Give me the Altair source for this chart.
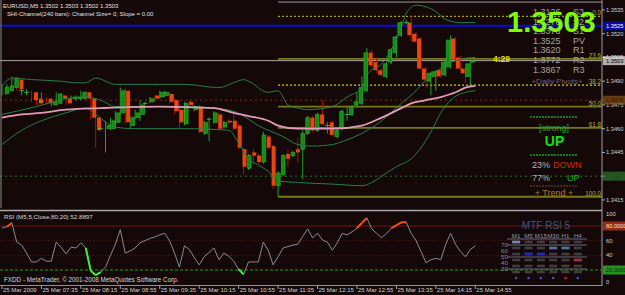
import altair as alt
import pandas as pd

BG = "#150808"
FONT = "Liberation Sans"

# ---------------- data: EURUSD M5, 25 Mar 2009, 06:55 .. 14:55 (97 bars) ----------------
opens = [1.3482,1.3484,1.3486,1.3491,1.3484,1.3483,1.3483,1.3479,1.3477,1.3479,
 1.3475,1.3476,1.3481,1.3479,1.3479,1.3479,1.3479,1.3483,1.3479,1.3467,
 1.3460,1.3460,1.3460,1.3464,1.3470,1.3484,1.3462,1.3467,1.3469,1.3476,
 1.3477,1.3481,1.3480,1.3481,1.3482,1.3478,1.3472,1.3463,1.3477,1.3472,
 1.3474,1.3457,1.3466,1.3464,1.3469,1.3461,1.3465,1.3465,1.3462,1.3447,
 1.3435,1.3445,1.3443,1.3439,1.3455,1.3449,1.3424,1.3431,1.3444,1.3443,
 1.3447,1.3447,1.3457,1.3467,1.3459,1.3469,1.3462,1.3464,1.3455,1.3460,
 1.3469,1.3469,1.3475,1.3476,1.3484,1.3508,1.3502,1.3497,1.3493,1.3502,
 1.3508,1.3519,1.3527,1.3527,1.3520,1.3517,1.3498,1.3490,1.3493,1.3497,
 1.3494,1.3499,1.3517,1.3505,1.3498,1.3493,1.3502]
highs = [1.3488,1.3488,1.3493,1.3492,1.3486,1.3485,1.3484,1.3480,1.3483,1.3480,
 1.3478,1.3483,1.3482,1.3480,1.3481,1.3481,1.3484,1.3484,1.3480,1.3468,
 1.3462,1.3465,1.3467,1.3471,1.3486,1.3486,1.3468,1.3472,1.3478,1.3477,
 1.3480,1.3481,1.3484,1.3484,1.3483,1.3479,1.3473,1.3477,1.3478,1.3475,
 1.3475,1.3465,1.3467,1.3471,1.3470,1.3465,1.3466,1.3469,1.3463,1.3448,
 1.3444,1.3447,1.3444,1.3458,1.3456,1.3450,1.3433,1.3444,1.3447,1.3446,
 1.3454,1.3459,1.3468,1.3468,1.3470,1.3478,1.3464,1.3465,1.3460,1.3472,
 1.3474,1.3475,1.3483,1.3493,1.3511,1.3510,1.3505,1.3498,1.3502,1.3511,
 1.3519,1.3528,1.3529,1.3531,1.3521,1.3518,1.3499,1.3496,1.3497,1.3498,
 1.3503,1.3519,1.3518,1.3506,1.3499,1.3502,1.3503]
lows = [1.3481,1.3483,1.3485,1.3484,1.3481,1.3481,1.3477,1.3475,1.3476,1.3475,
 1.3474,1.3475,1.3478,1.3475,1.3478,1.3478,1.3478,1.3478,1.3466,1.3448,
 1.3459,1.3445,1.3459,1.3462,1.3469,1.3463,1.3460,1.3466,1.3465,1.3475,
 1.3476,1.3478,1.3479,1.3480,1.3476,1.3469,1.3460,1.3462,1.3474,1.3471,
 1.3457,1.3456,1.3452,1.3463,1.3459,1.3460,1.3463,1.3459,1.3447,1.3431,
 1.3434,1.3438,1.3438,1.3438,1.3447,1.3422,1.3417,1.3430,1.3436,1.3442,
 1.3439,1.3428,1.3456,1.3458,1.3458,1.3462,1.3457,1.3455,1.3454,1.3459,
 1.3465,1.3468,1.3474,1.3475,1.3483,1.3498,1.3495,1.3493,1.3492,1.3501,
 1.3505,1.3518,1.3526,1.3515,1.3514,1.3497,1.3486,1.3481,1.3484,1.3492,
 1.3493,1.3498,1.3503,1.3497,1.3489,1.3487,1.3502]
closes = [1.3486,1.3487,1.3492,1.3485,1.3484,1.3483,1.3478,1.3476,1.3477,1.3476,
 1.3477,1.3482,1.3479,1.3476,1.3480,1.3480,1.3483,1.3479,1.3467,1.3459,
 1.3460,1.3462,1.3465,1.3470,1.3484,1.3464,1.3467,1.3470,1.3475,1.3476,
 1.3479,1.3479,1.3483,1.3483,1.3477,1.3471,1.3464,1.3476,1.3475,1.3474,
 1.3458,1.3464,1.3466,1.3470,1.3460,1.3464,1.3464,1.3460,1.3448,1.3436,
 1.3443,1.3443,1.3439,1.3456,1.3448,1.3424,1.3432,1.3443,1.3441,1.3445,
 1.3445,1.3457,1.3467,1.3459,1.3469,1.3463,1.3462,1.3456,1.3459,1.3471,
 1.3469,1.3474,1.3477,1.3486,1.3508,1.3500,1.3497,1.3494,1.3501,1.3510,
 1.3518,1.3527,1.3527,1.3519,1.3515,1.3498,1.3491,1.3495,1.3496,1.3493,
 1.3502,1.3516,1.3504,1.3498,1.3495,1.3501,1.3503]

rsi_vals = [77,79,84,58,54,43,31,31,36,32,
 32,58,51,42,51,50,57,50,19,13,
 17,24,40,55,75,43,46,50,57,60,
 63,65,68,70,60,43,24,53,48,37,
 27,38,44,50,34,43,39,32,21,14,
 31,31,31,58,47,27,38,50,52,54,
 55,66,76,64,70,61,58,47,57,70,
 68,72,77,84,91,76,70,64,70,77,
 81,85,85,70,60,45,30,34,36,34,
 55,70,55,45,38,48,52.8897]

# Bollinger bands and slow MA, read at selected bars
upper_idx = [0,2,6,12,15,17,19,23,32,37,44,47,49,50,54,56,58,60,62,67,70,73,74,77,79,81,82,84,86,88,90,93,96]
upper_val = [1.3487,1.3492,1.3491,1.3490,1.3489,1.3489,1.3492,1.3488,1.3488,1.3488,1.3486,1.3489,1.3491,1.3490,
             1.3483,1.3484,1.3475,1.3473,1.3472,1.3474,1.3480,1.3486,1.3494,1.3501,1.3510,1.3524,1.3533,1.3538,
             1.3537,1.3534,1.3529,1.3527,1.3527]
mid_idx = [0,7,13,17,20,23,27,37,43,47,49,52,57,60,63,67,70,73,77,81,84,86,90,93,96]
mid_val = [1.3469,1.3474,1.3479,1.3480,1.3478,1.3474,1.3474,1.3474,1.3473,1.3471,1.3468,1.3462,1.3455,1.3450,
           1.3449,1.3450,1.3453,1.3457,1.3465,1.3476,1.3484,1.3491,1.3500,1.3504,1.3505]
low_idx = [0,4,8,13,17,19,23,27,37,46,48,50,52,54,56,60,67,73,75,77,80,83,85,87,89,91,94,96]
low_val = [1.3450,1.3459,1.3465,1.3470,1.3473,1.3469,1.3461,1.3460,1.3460,1.3459,1.3451,1.3441,1.3437,1.3433,
           1.3427,1.3426,1.3425,1.3424,1.3426,1.3430,1.3436,1.3441,1.3448,1.3458,1.3470,1.3478,1.3483,1.3484]
ma_idx = [0,4,8,13,20,32,43,47,50,54,56,60,67,73,77,81,83,86,89,92,94,96]
ma_val = [1.3467,1.3469,1.3470,1.3472,1.3473,1.3474,1.3473,1.3470,1.3468,1.3465,1.3462,1.3460,1.3460,1.3462,
          1.3467,1.3473,1.3476,1.3478,1.3480,1.3483,1.3486,1.3487]

fib_levels = ["0.0", "23.6", "38.2", "50.0", "61.8", "100.0"]
fib_prices = [1.3531, 1.35041, 1.34875, 1.3474, 1.34605, 1.3417]
fib_start_bar = 56

pivot_names = ["S3", "S2", "S1", "PV", "R1", "R2", "R3"]
pivot_vals = [1.3126, 1.3278, 1.3373, 1.3525, 1.3620, 1.3772, 1.3867]

price_ticks = [1.3535, 1.3520, 1.3505, 1.3490, 1.3475, 1.3460, 1.3445, 1.3430, 1.3415]
rsi_ticks = [100, 60, 40, 0]

axis_bars = [0, 8, 16, 24, 32, 40, 48, 56, 64, 72, 80, 88, 96]
axis_labels = ["25 Mar 2009", "25 Mar 07:35", "25 Mar 08:15", "25 Mar 08:55", "25 Mar 09:35",
               "25 Mar 10:15", "25 Mar 10:55", "25 Mar 11:35", "25 Mar 12:15", "25 Mar 12:55",
               "25 Mar 13:35", "25 Mar 14:15", "25 Mar 14:55"]

tf_names = ["M1", "M5", "M15", "M30", "H1", "H4"]
tf_level_row = [0, 2, 2, 1, 1, 3]
tf_level_labels = ["70", "60", "50", "40", "30"]
trend_down, trend_up = 23, 77

# ---------------- scales ----------------
X_BAR = alt.Scale(domain=[-0.4, 121.7], range=[0, 602], nice=False, zero=False)
Y_PRICE = alt.Scale(domain=[1.34099, 1.35413], range=[208, 0], nice=False, zero=False)
Y_RSI = alt.Scale(domain=[0, 100], range=[284.7, 211.3], nice=False, zero=False)
X_TF = alt.Scale(domain=[-0.5, 5.5], range=[510, 584], nice=False, zero=False)
Y_TF = alt.Scale(domain=[-0.5, 5.5], range=[239, 275], nice=False, zero=False)
Y_PIV = alt.Scale(domain=[0, 6], range=[12, 69.5], nice=False, zero=False)

def xb(f="i"):
    return alt.X(f"{f}:Q", scale=X_BAR, axis=None)

def yp(f):
    return alt.Y(f"{f}:Q", scale=Y_PRICE, axis=None)

def yr(f):
    return alt.Y(f"{f}:Q", scale=Y_RSI, axis=None)

ONE = pd.DataFrame({"k": [0]})

def text(s, x, y, size=6.5, color="#d0d0d0", align="left", baseline="middle", bold=False):
    return alt.Chart(ONE).mark_text(align=align, baseline=baseline, fontSize=size, color=color,
                                    fontWeight="bold" if bold else "normal", font=FONT).encode(
        x=alt.value(x), y=alt.value(y), text=alt.value(s))

def pix_rule(x1, y1, x2, y2, color, width=1.0, dash=None):
    kw = dict(color=color, strokeWidth=width)
    if dash:
        kw["strokeDash"] = dash
    return alt.Chart(ONE).mark_rule(**kw).encode(x=alt.value(x1), y=alt.value(y1),
                                                 x2=alt.value(x2), y2=alt.value(y2))

def price_rule(p, color, width=1.0, dash=None, start=None):
    d = pd.DataFrame({"p": [p], "i": [0 if start is None else start]})
    kw = dict(color=color, strokeWidth=width)
    if dash:
        kw["strokeDash"] = dash
    enc = dict(y=yp("p"), x2=alt.value(602))
    enc["x"] = alt.value(0) if start is None else xb()
    return alt.Chart(d).mark_rule(**kw).encode(**enc)

def rsi_rule(v, color, width=1.0, dash=None):
    d = pd.DataFrame({"v": [v]})
    kw = dict(color=color, strokeWidth=width)
    if dash:
        kw["strokeDash"] = dash
    return alt.Chart(d).mark_rule(**kw).encode(y=yr("v"), x=alt.value(0), x2=alt.value(602))

layers = []

# ---------------- horizontal lines in price pane ----------------
layers.append(price_rule(1.3540, "#9a9a9a", 1.0, start=fib_start_bar))
layers.append(price_rule(1.3478, "#8a2020", 1.0, dash=[2, 3]))
layers.append(price_rule(1.3430, "#1f7f2a", 1.0, dash=[2, 3]))
fib_style = {"0.0": ("#a8a820", 1.3, [2, 2]), "38.2": ("#d4d420", 1.3, [2, 2])}
for lvl, p in zip(fib_levels, fib_prices):
    col, w, dash = fib_style.get(lvl, ("#78781a", 1.8, None))
    layers.append(price_rule(p, col, w, dash=dash, start=fib_start_bar))
fib_df = pd.DataFrame({"p": fib_prices, "lvl": fib_levels})
layers.append(alt.Chart(fib_df).mark_text(align="right", baseline="bottom", fontSize=6.3,
                                          color="#b0b030", font=FONT).encode(
    x=alt.value(601), y=yp("p"), text="lvl:N"))
layers.append(price_rule(1.3525, "#0a0ae0", 2.0))
layers.append(price_rule(closes[-1], "#a8a8a8", 1.0))

# ---------------- candles ----------------
bars = pd.DataFrame({"i": list(range(len(opens))), "o": opens, "h": highs, "l": lows, "c": closes})
cb = alt.Chart(bars)
layers.append(cb.transform_filter("datum.c >= datum.o").mark_rule(color="#24a02a", strokeWidth=1).encode(
    x=xb(), y=yp("l"), y2=alt.Y2("h")))
layers.append(cb.transform_filter("datum.c < datum.o").mark_rule(color="#a81408", strokeWidth=1).encode(
    x=xb(), y=yp("l"), y2=alt.Y2("h")))
layers.append(cb.transform_filter("datum.c > datum.o").mark_bar(size=3.6, color="#128a14", stroke="#2cc02c",
                                                                strokeWidth=0.6).encode(
    x=xb(), y=yp("o"), y2=alt.Y2("c")))
layers.append(cb.transform_filter("datum.c < datum.o").mark_bar(size=4, color="#ea450e").encode(
    x=xb(), y=yp("o"), y2=alt.Y2("c")))
layers.append(cb.transform_filter("datum.c == datum.o").mark_tick(orient="horizontal", size=5, thickness=1,
                                                                   color="#3ae83a").encode(
    x=xb(), y=yp("c")))

# ---------------- bands & MA ----------------
for idx, val, col, w in [(upper_idx, upper_val, "#23804a", 1.0), (mid_idx, mid_val, "#23804a", 1.0),
                         (low_idx, low_val, "#23804a", 1.0), (ma_idx, ma_val, "#e29cba", 1.8)]:
    d = pd.DataFrame({"i": idx, "v": val})
    layers.append(alt.Chart(d).mark_line(color=col, strokeWidth=w, interpolate="monotone").encode(
        x=xb(), y=yp("v")))

# ---------------- pivot table & overlays ----------------
piv = pd.DataFrame({"k": list(range(len(pivot_names))), "n": pivot_names, "v": pivot_vals})
layers.append(alt.Chart(piv).mark_text(align="left", baseline="middle", fontSize=9, color="#a4a4a4",
                                       font=FONT).encode(
    x=alt.value(533), y=alt.Y("k:Q", scale=Y_PIV, axis=None), text=alt.Text("v:Q", format=".4f")))
layers.append(alt.Chart(piv).mark_text(align="left", baseline="middle", fontSize=9, color="#a4a4a4",
                                       font=FONT).encode(
    x=alt.value(573), y=alt.Y("k:Q", scale=Y_PIV, axis=None), text="n:N"))
layers.append(text("+Daily Pivots+", 557, 82, size=8, color="#7e5a70", align="center"))
layers.append(text(f"{closes[-1]:.4f}", 507, 32, size=29, color="#7dfa0a", baseline="alphabetic", bold=True))
layers.append(text("4:29", 493, 59, size=8.5, color="#e0e010", bold=True))

# trend box
layers.append(pix_rule(530, 117, 578, 117, "#1f9a2a", 1.5, dash=[2, 1]))
layers.append(text("[strong]", 554, 128, size=9, color="#22a030", align="center"))
layers.append(text("UP", 554.5, 142, size=14, color="#10e010", align="center", bold=True))
layers.append(pix_rule(530, 155, 578, 155, "#1f9a2a", 1.5, dash=[2, 1]))
layers.append(text(f"{trend_down}%", 532, 165, size=9, color="#b0b0b0"))
layers.append(text("DOWN", 553, 165, size=9, color="#c82a0c"))
layers.append(text(f"{trend_up}%", 532, 178, size=9, color="#b0b0b0"))
layers.append(text("UP", 567, 178, size=9, color="#18b818"))
layers.append(pix_rule(530, 186, 578, 186, "#7a4a1a", 1.0, dash=[2, 1]))
layers.append(text("+   Trend   +", 554, 193, size=9, color="#b8742a", align="center"))

# top-left info
layers.append(text(f"EURUSD,M5  {opens[-1]:.4f} {highs[-1]:.4f} {lows[-1]:.4f} {closes[-1]:.4f}",
                   3, 6, size=6, color="#e0e0e0"))
layers.append(text("SHI-Channel(240 bars): Channel Size= 0, Slope = 0.00", 7, 14, size=6, color="#e0e0e0"))

# ---------------- frame ----------------
layers.append(pix_rule(1, 0, 1, 208, "#8a8a8a", 1.0))
layers.append(pix_rule(602, 0, 602, 286, "#a0a0a0", 1.0))
layers.append(pix_rule(0, 210.5, 602, 210.5, "#a8a8a8", 1.5))
layers.append(pix_rule(0, 285.5, 602, 285.5, "#909090", 1.0))

# price axis
tick_df = pd.DataFrame({"p": price_ticks})
layers.append(alt.Chart(tick_df).mark_rule(color="#b0b0b0").encode(x=alt.value(602), x2=alt.value(605), y=yp("p")))
layers.append(alt.Chart(tick_df).mark_text(align="left", baseline="middle", fontSize=5.7, color="#d0d0d0",
                                           font=FONT).encode(
    x=alt.value(606), y=yp("p"), text=alt.Text("p:Q", format=".4f")))
box_df = pd.DataFrame({"p": [1.3525, closes[-1], 1.3478, 1.3430],
                       "bg": ["#0a0ad8", "#f4f4f4", "#8c5418", "#2a7a2a"],
                       "fg": ["#ffffff", "#000000", "#2a1505", "#0a2a0a"]})
layers.append(alt.Chart(box_df).mark_tick(orient="horizontal", size=23, thickness=9).encode(
    x=alt.value(614.5), y=yp("p"), color=alt.Color("bg:N", scale=None)))
layers.append(alt.Chart(box_df).mark_text(align="left", baseline="middle", fontSize=5.7, font=FONT).encode(
    x=alt.value(606), y=yp("p"), text=alt.Text("p:Q", format=".4f"), color=alt.Color("fg:N", scale=None)))

# ---------------- RSI pane ----------------
layers.append(rsi_rule(80, "#7a1414", 1.0))
layers.append(rsi_rule(60, "#5e1a1a", 1.0, dash=[1, 2]))
layers.append(rsi_rule(40, "#5e1a1a", 1.0, dash=[1, 2]))
layers.append(rsi_rule(20, "#22a022", 1.0, dash=[3, 2]))
rsi_df = pd.DataFrame({"i": list(range(len(rsi_vals))), "r": rsi_vals})
layers.append(alt.Chart(rsi_df).mark_line(color="#8c8c8c", strokeWidth=1).encode(x=xb(), y=yr("r")))
seg = pd.DataFrame({"i0": list(range(len(rsi_vals) - 1)), "i1": list(range(1, len(rsi_vals))),
                    "r0": rsi_vals[:-1], "r1": rsi_vals[1:]})
layers.append(alt.Chart(seg).transform_filter("datum.r1 > 80").mark_rule(color="#ff4a12", strokeWidth=2).encode(
    x=xb("i0"), x2=alt.X2("i1"), y=yr("r0"), y2=alt.Y2("r1")))
layers.append(alt.Chart(seg).transform_filter("datum.r1 < 20").mark_rule(color="#3af03a", strokeWidth=2).encode(
    x=xb("i0"), x2=alt.X2("i1"), y=yr("r0"), y2=alt.Y2("r1")))
layers.append(text(f"RSI (M5,5,Close,80,20) {rsi_vals[-1]:.4f}", 4, 217, size=6.2, color="#d8d8d8"))
layers.append(text("FXDD - MetaTrader, \u00a9 2001-2008 MetaQuotes Software Corp.", 4, 280, size=6.3,
                   color="#d8d8d8"))
rt = pd.DataFrame({"v": rsi_ticks, "t": [str(v) for v in rsi_ticks]})
for v, bl in [(100, "top"), (60, "middle"), (40, "middle"), (0, "bottom")]:
    layers.append(alt.Chart(rt).transform_filter(f"datum.v == {v}").mark_text(
        align="left", baseline=bl, fontSize=5.8, color="#d0d0d0", font=FONT).encode(
        x=alt.value(606), y=yr("v"), text="t:N"))
rbox = pd.DataFrame({"v": [80, 20], "t": ["80.0000", "20.0000"],
                     "bg": ["#d23a16", "#2ed02e"], "fg": ["#ffe0d0", "#062006"]})
layers.append(alt.Chart(rbox).mark_tick(orient="horizontal", size=23, thickness=9).encode(
    x=alt.value(614.5), y=yr("v"), color=alt.Color("bg:N", scale=None)))
layers.append(alt.Chart(rbox).mark_text(align="left", baseline="middle", fontSize=5.7, font=FONT).encode(
    x=alt.value(606), y=yr("v"), text="t:N", color=alt.Color("fg:N", scale=None)))

# ---------------- MTF RSI table ----------------
cells = []
for c, name in enumerate(tf_names):
    for r in range(6):
        cells.append({"c": c, "r": r, "col": "#52525e"})
hi_cols = ["#86aee8", "#1020ff", "#1020ff", "#5b88c4", "#5b88c4", "#d42a2a"]
for c, r in enumerate(tf_level_row):
    cells.append({"c": c, "r": r, "col": hi_cols[c]})
cells_df = pd.DataFrame(cells)
XT = alt.X("c:Q", scale=X_TF, axis=None)
YT = alt.Y("r:Q", scale=Y_TF, axis=None)
for yy in [-0.5, 0.5, 2.5, 4.5]:
    layers.append(alt.Chart(pd.DataFrame({"r": [yy]})).mark_rule(color="#6a6a78", strokeWidth=1).encode(
        y=YT, x=alt.value(507), x2=alt.value(587)))
layers.append(alt.Chart(cells_df).mark_tick(orient="horizontal", size=8, thickness=2.6).encode(
    x=XT, y=YT, color=alt.Color("col:N", scale=None)))
hdr = pd.DataFrame({"c": list(range(len(tf_names))), "r": [-1] * len(tf_names), "t": tf_names})
layers.append(alt.Chart(hdr).mark_text(align="center", baseline="middle", fontSize=6.2, color="#8898b0",
                                       font=FONT).encode(x=XT, y=YT, text="t:N"))
lv = pd.DataFrame({"c": [-0.95] * len(tf_level_labels),
                   "r": [k + 0.5 for k in range(len(tf_level_labels))], "t": tf_level_labels})
layers.append(alt.Chart(lv).mark_text(align="center", baseline="middle", fontSize=6.2, color="#7a8aa0",
                                      font=FONT).encode(x=XT, y=YT, text="t:N"))
dots = pd.DataFrame({"c": list(range(6)), "r": [6] * 6,
                     "col": ["#2a5ad8", "#2a5ad8", "#2a5ad8", "#2a5ad8", "#e02020", "#2a5ad8"]})
layers.append(alt.Chart(dots).mark_square(size=5, opacity=1).encode(
    x=XT, y=YT, color=alt.Color("col:N", scale=None)))
ttl = pd.DataFrame({"c": [2.42], "r": [-2.67], "t": ["MTF RSI 5"]})
layers.append(alt.Chart(ttl).mark_text(align="center", baseline="middle", fontSize=10, color="#3a5a7c",
                                       font=FONT).encode(x=XT, y=YT, text="t:N"))

# ---------------- time axis ----------------
tax = pd.DataFrame({"i": axis_bars, "t": axis_labels})
layers.append(alt.Chart(tax).mark_rule(color="#a0a0a0").encode(x=xb(), y=alt.value(285), y2=alt.value(289)))
layers.append(alt.Chart(tax).mark_text(align="left", baseline="middle", fontSize=6, color="#d0d0d0",
                                       font=FONT, dx=1).encode(x=xb(), y=alt.value(290), text="t:N"))

chart = alt.layer(*layers).resolve_scale(x="independent", y="independent").properties(
    width=625, height=295, background=BG, padding=0,
    autosize=alt.AutoSizeParams(type="none")
).configure_view(stroke=None, fill=BG)

chart.save("out.html", embed_options={"renderer": "svg", "actions": False})
